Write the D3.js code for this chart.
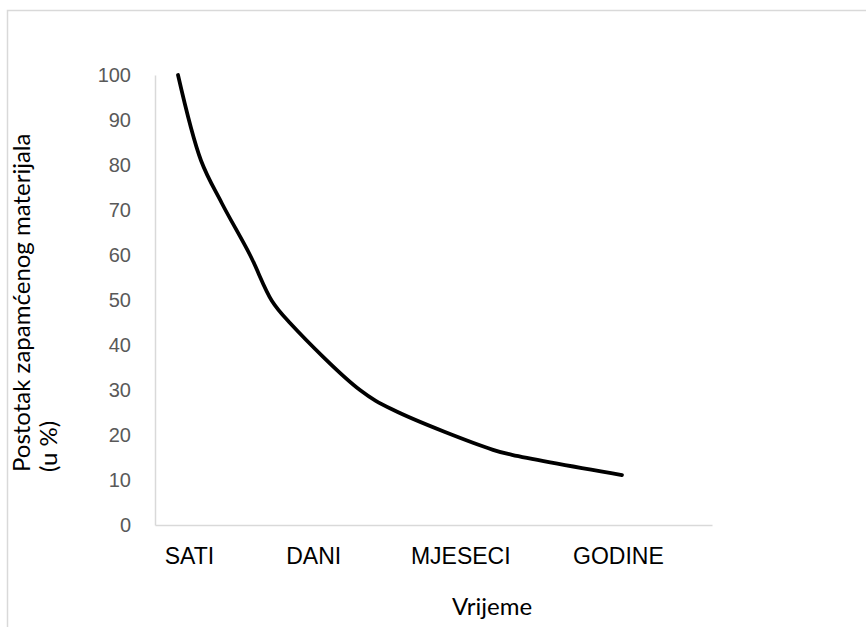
<!DOCTYPE html>
<html>
<head>
<meta charset="utf-8">
<script src="https://cdn.jsdelivr.net/npm/d3@7"></script>
<style>
  body { margin: 0; background: #fff; }
  svg { display: block; font-family: Lato, "Open Sans", sans-serif; }
  .axes path { stroke: #d9d9d9; stroke-width: 1.5; }
  .yaxis text { fill: #595959; font-size: 20px; }
  .xaxis text { fill: #000; font-size: 23px; }
  .title { fill: #000; font-size: 24px; }
</style>
</head>
<body>
<div id="graph"></div>
<script>
// Forgetting curve
const times = [4.13, 8.26, 12.0, 17.06, 21.0, 24.24, 36.8, 42.73, 60.68, 64.09, 83.84];
const remembered = [100, 81, 71.5, 60, 49.8, 44.9, 30, 25.6, 16.7, 15.6, 11.1];
const data = times.map((t, i) => ({ t: t, v: remembered[i] }));

const catLabels = ["SATI", "DANI", "MJESECI", "GODINE"];
const catPos = [6.1, 28.4, 54.8, 83.1];
const yTicks = [0, 10, 20, 30, 40, 50, 60, 70, 80, 90, 100];

const fWidth = 866, fHeight = 627;
const ml = 155, mt = 75, pr = 712, pb = 525;

let x = d3.scaleLinear().domain([0, 100]).range([ml, pr]);
let y = d3.scaleLinear().domain([0, 100]).range([pb, mt]);

let svg = d3.select("#graph").append("svg")
    .attr("width", fWidth)
    .attr("height", fHeight);

// chart border
svg.append("rect")
    .attr("x", 7.5).attr("y", 10.5)
    .attr("width", fWidth + 10).attr("height", fHeight + 10)
    .attr("fill", "none")
    .attr("stroke", "#d9d9d9")
    .attr("stroke-width", 1.5);

// Y axis
svg.append("g")
    .attr("class", "axes yaxis")
    .attr("transform", `translate(${ml}, 0)`)
    .call(d3.axisLeft(y).tickValues(yTicks).tickSize(0).tickSizeOuter(0).tickPadding(24))
    .call(g => g.selectAll(".tick line").remove());

// X axis
svg.append("g")
    .attr("class", "axes xaxis")
    .attr("transform", `translate(0, ${pb})`)
    .call(d3.axisBottom(x).tickValues(catPos).tickSize(0).tickSizeOuter(0).tickPadding(23)
        .tickFormat((d, i) => catLabels[i]))
    .call(g => g.selectAll(".tick line").remove());

// the line
let line = d3.line()
    .x(d => x(d.t))
    .y(d => y(d.v))
    .curve(d3.curveCatmullRom.alpha(0.5));

svg.append("path")
    .datum(data)
    .attr("fill", "none")
    .attr("stroke", "#000")
    .attr("stroke-width", 3.75)
    .attr("stroke-linecap", "round")
    .attr("stroke-linejoin", "round")
    .attr("d", line);

// axis titles
svg.append("text")
    .attr("class", "title")
    .attr("x", 492).attr("y", 615)
    .attr("text-anchor", "middle")
    .text("Vrijeme");

let yt = svg.append("text")
    .attr("class", "title")
    .attr("transform", "translate(30, 472) rotate(-90)");
yt.append("tspan").attr("x", 0).attr("y", 0).text("Postotak zapamćenog materijala");
yt.append("tspan").attr("x", 0).attr("y", 27).text("(u %)");
</script>
</body>
</html>
